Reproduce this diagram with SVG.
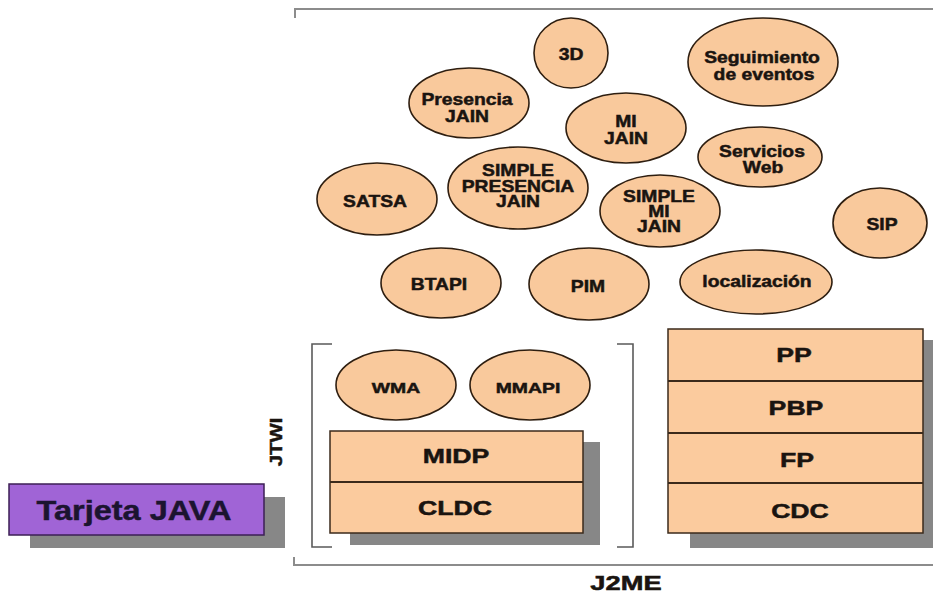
<svg xmlns="http://www.w3.org/2000/svg" width="933" height="598" viewBox="0 0 933 598">
<style>
.bg{fill:#ffffff}
.el{fill:#f9c99c;stroke:#2e1e10;stroke-width:1.6}
.box{fill:#fbcb9e;stroke:#3b2a1b;stroke-width:1.5}
.div{stroke:#3b2a1b;stroke-width:2}
.sh{fill:#878787}
.t{font-family:"Liberation Sans",Arial,sans-serif;font-weight:bold;fill:#1a1410;stroke:#1a1410;stroke-width:0.5;text-anchor:middle}
.e{font-size:16.5px}
.r{font-size:20.5px}
.br{fill:none;stroke:#8c8c8c;stroke-width:2}
.br2{fill:none;stroke:#5a5a5a;stroke-width:1.6}
.card{fill:#a064d6;stroke:#3d1f55;stroke-width:1.5}
</style>
<rect class="bg" x="0" y="0" width="933" height="598"/>

<g id="brackets">
  <path class="br" d="M295,18 V9 H933"/>
  <path class="br" d="M294,557 V565 H933"/>
  <path class="br2" d="M332,344 H312 V547 H332"/>
  <path class="br2" d="M617,344 H633 V547 H617"/>
</g>

<g id="label-j2me">
  <text class="t" style="font-size:19.5px" transform="matrix(1.4 0 0 1 626 590)" x="0" y="0">J2ME</text>
</g>
<g id="label-jtwi">
  <text class="t" style="font-size:17px" transform="translate(282,442) rotate(-90) scale(1.2,1)" x="0" y="0">JTWI</text>
</g>

<g id="n-3d">
  <ellipse class="el" cx="571" cy="53" rx="37" ry="35"/>
  <text class="t e" transform="matrix(1.17 0 0 1 571 0)" x="0" y="60">3D</text>
</g>
<g id="n-seguimiento">
  <ellipse class="el" cx="763" cy="62" rx="75" ry="44"/>
  <text class="t e" transform="matrix(1.17 0 0 1 762 0)" x="0" y="63">Seguimiento</text>
  <text class="t e" transform="matrix(1.17 0 0 1 764 0)" x="0" y="80">de eventos</text>
</g>
<g id="n-presencia-jain">
  <ellipse class="el" cx="469" cy="103" rx="60" ry="35"/>
  <text class="t e" transform="matrix(1.17 0 0 1 467 0)" x="0" y="105">Presencia</text>
  <text class="t e" transform="matrix(1.17 0 0 1 467 0)" x="0" y="122">JAIN</text>
</g>
<g id="n-mi-jain">
  <ellipse class="el" cx="626" cy="128" rx="60" ry="35"/>
  <text class="t e" transform="matrix(1.17 0 0 1 626 0)" x="0" y="127">MI</text>
  <text class="t e" transform="matrix(1.17 0 0 1 626 0)" x="0" y="144">JAIN</text>
</g>
<g id="n-servicios-web">
  <ellipse class="el" cx="760" cy="157" rx="62" ry="30"/>
  <text class="t e" transform="matrix(1.17 0 0 1 762 0)" x="0" y="157">Servicios</text>
  <text class="t e" transform="matrix(1.17 0 0 1 763 0)" x="0" y="173">Web</text>
</g>
<g id="n-satsa">
  <ellipse class="el" cx="377" cy="199" rx="60" ry="36"/>
  <text class="t e" transform="matrix(1.17 0 0 1 375 0)" x="0" y="207">SATSA</text>
</g>
<g id="n-simple-presencia-jain">
  <ellipse class="el" cx="518" cy="188" rx="70" ry="41"/>
  <text class="t e" transform="matrix(1.17 0 0 1 518 0)" x="0" y="176">SIMPLE</text>
  <text class="t e" transform="matrix(1.17 0 0 1 518 0)" x="0" y="192">PRESENCIA</text>
  <text class="t e" transform="matrix(1.17 0 0 1 518 0)" x="0" y="207">JAIN</text>
</g>
<g id="n-simple-mi-jain">
  <ellipse class="el" cx="660" cy="211" rx="60" ry="36"/>
  <text class="t e" transform="matrix(1.17 0 0 1 659 0)" x="0" y="202">SIMPLE</text>
  <text class="t e" transform="matrix(1.17 0 0 1 659 0)" x="0" y="217">MI</text>
  <text class="t e" transform="matrix(1.17 0 0 1 659 0)" x="0" y="232">JAIN</text>
</g>
<g id="n-sip">
  <ellipse class="el" cx="880" cy="223" rx="47" ry="35"/>
  <text class="t e" transform="matrix(1.17 0 0 1 882 0)" x="0" y="230">SIP</text>
</g>
<g id="n-btapi">
  <ellipse class="el" cx="441" cy="283" rx="60" ry="35"/>
  <text class="t e" transform="matrix(1.17 0 0 1 439 0)" x="0" y="290">BTAPI</text>
</g>
<g id="n-pim">
  <ellipse class="el" cx="589" cy="284" rx="60" ry="36"/>
  <text class="t e" transform="matrix(1.17 0 0 1 588 0)" x="0" y="292">PIM</text>
</g>
<g id="n-localizacion">
  <ellipse class="el" cx="756" cy="282" rx="76" ry="32"/>
  <text class="t e" transform="matrix(1.17 0 0 1 757 0)" x="0" y="287">localización</text>
</g>

<g id="n-wma">
  <ellipse class="el" cx="396" cy="385" rx="60" ry="35"/>
  <text class="t" style="font-size:15.5px" transform="matrix(1.25 0 0 1 396 0)" x="0" y="393">WMA</text>
</g>
<g id="n-mmapi">
  <ellipse class="el" cx="530" cy="385" rx="60" ry="35"/>
  <text class="t" style="font-size:15.5px" transform="matrix(1.25 0 0 1 528 0)" x="0" y="393">MMAPI</text>
</g>

<g id="n-midp-cldc">
  <rect class="sh" x="350" y="442" width="250" height="103"/>
  <rect class="box" x="330" y="431" width="253" height="102"/>
  <line class="div" x1="330" y1="482" x2="583" y2="482"/>
  <text class="t r" transform="matrix(1.3 0 0 1 456 0)" x="0" y="463">MIDP</text>
  <text class="t r" transform="matrix(1.3 0 0 1 455 0)" x="0" y="515">CLDC</text>
</g>

<g id="n-cdc-stack">
  <rect class="sh" x="690" y="340" width="250" height="208"/>
  <rect class="box" x="668" y="329" width="255" height="204"/>
  <line class="div" x1="668" y1="381" x2="923" y2="381"/>
  <line class="div" x1="668" y1="433" x2="923" y2="433"/>
  <line class="div" x1="668" y1="483" x2="923" y2="483"/>
  <text class="t r" transform="matrix(1.3 0 0 1 794 0)" x="0" y="362">PP</text>
  <text class="t r" transform="matrix(1.3 0 0 1 796 0)" x="0" y="415">PBP</text>
  <text class="t r" transform="matrix(1.3 0 0 1 797 0)" x="0" y="467">FP</text>
  <text class="t r" transform="matrix(1.3 0 0 1 800 0)" x="0" y="518">CDC</text>
</g>

<g id="n-tarjeta-java">
  <rect class="sh" x="30" y="497" width="255" height="51"/>
  <rect class="card" x="9" y="484" width="255" height="51"/>
  <text class="t" style="font-size:28px;fill:#1c1430;stroke:#1c1430" transform="matrix(1.16 0 0 1 134 0)" x="0" y="520">Tarjeta JAVA</text>
</g>
</svg>
